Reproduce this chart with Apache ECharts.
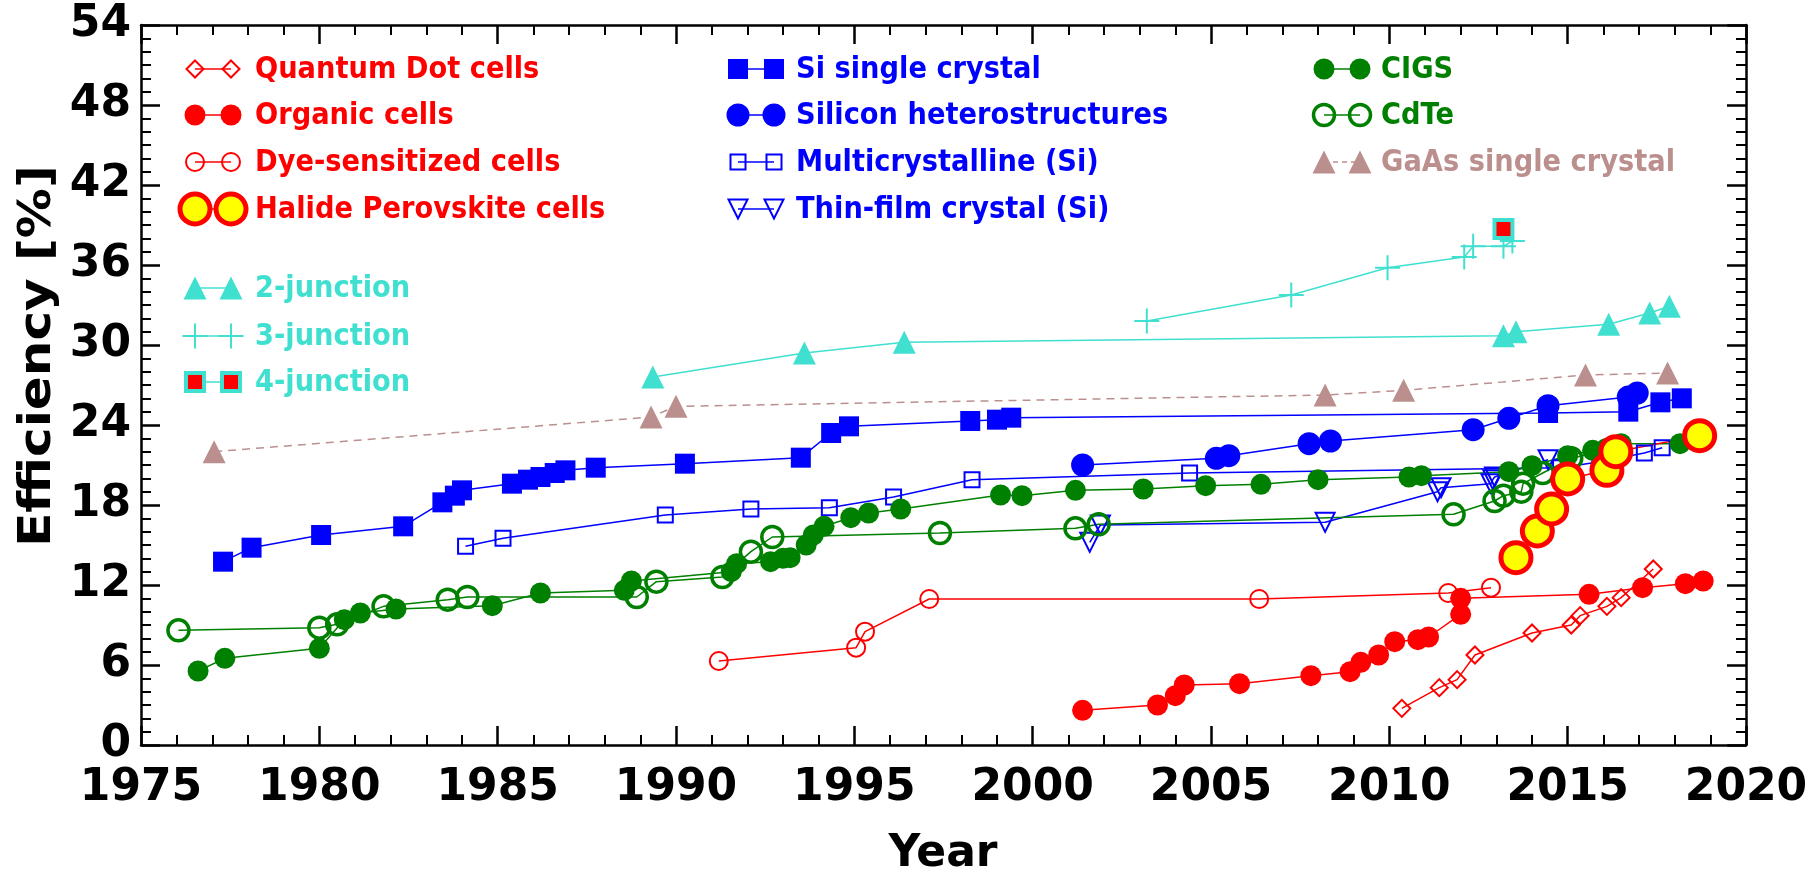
<!DOCTYPE html>
<html>
<head>
<meta charset="utf-8">
<title>Solar cell efficiency records</title>
<script src="https://cdn.jsdelivr.net/npm/echarts@6.0.0/dist/echarts.min.js"></script>
<style>
  html, body { margin: 0; padding: 0; background: #ffffff; }
  #chart { width: 1820px; height: 869px; }
</style>
</head>
<body>
<div id="chart"></div>
<script>
// ---- Axis ticks ----
const yearTicks = [1975, 1980, 1985, 1990, 1995, 2000, 2005, 2010, 2015, 2020];
const efficiencyTicks = [0, 6, 12, 18, 24, 30, 36, 42, 48, 54];

// ---- Record efficiencies, [year, efficiency %] ----
const quantumDot = [[2010.35, 2.75], [2011.4, 4.3], [2011.9, 4.9], [2012.4, 6.75], [2014.0, 8.4],
  [2015.1, 9.0], [2015.35, 9.7], [2016.1, 10.4], [2016.5, 11.05], [2017.4, 13.2]];
const organic = [[2001.4, 2.6], [2003.5, 3.0], [2004.0, 3.7], [2004.25, 4.5], [2005.8, 4.6],
  [2007.8, 5.2], [2008.9, 5.5], [2009.2, 6.2], [2009.7, 6.75], [2010.15, 7.75], [2010.8, 7.9],
  [2011.1, 8.1], [2012.0, 9.8], [2012.0, 11.0], [2015.6, 11.3], [2017.1, 11.8], [2018.3, 12.1],
  [2018.8, 12.3]];
const dyeSensitized = [[1991.2, 6.3], [1995.05, 7.3], [1995.3, 8.5], [1997.1, 10.95],
  [2006.35, 10.95], [2011.65, 11.4], [2012.85, 11.8]];
const perovskite = [[2013.55, 14.05], [2014.15, 16.05], [2014.55, 17.7], [2015.0, 19.95],
  [2016.1, 20.6], [2016.35, 22.0], [2018.7, 23.2]];
const siSingleCrystal = [[1977.3, 13.75], [1978.1, 14.8], [1980.05, 15.75], [1982.35, 16.4],
  [1983.45, 18.2], [1983.8, 18.7], [1984.0, 19.1], [1985.4, 19.6], [1985.85, 19.9], [1986.2, 20.1],
  [1986.6, 20.4], [1986.9, 20.6], [1987.75, 20.8], [1990.25, 21.1], [1993.5, 21.55],
  [1994.35, 23.4], [1994.85, 23.9], [1998.25, 24.3], [1999.0, 24.4], [1999.4, 24.55],
  [2014.45, 24.9], [2016.7, 25.0], [2017.6, 25.7], [2018.2, 26.0]];
const siHetero = [[2001.4, 21.0], [2005.15, 21.5], [2005.5, 21.7], [2007.75, 22.6],
  [2008.35, 22.8], [2012.35, 23.65], [2013.35, 24.5], [2014.45, 25.45], [2016.7, 26.1],
  [2016.95, 26.4]];
const multiCrystalline = [[1984.1, 14.9], [1985.15, 15.5], [1989.7, 17.25], [1992.1, 17.7],
  [1994.3, 17.8], [1996.1, 18.6], [1998.3, 19.9], [2004.4, 20.4], [2014.8, 20.8],
  [2015.9, 21.25], [2017.15, 21.9], [2017.65, 22.3]];
const thinFilmSi = [[2001.6, 15.2], [2001.9, 16.5], [2008.2, 16.7], [2011.35, 19.0],
  [2011.45, 19.3], [2012.85, 19.6], [2012.9, 19.9], [2012.95, 20.1], [2014.45, 21.4]];
const cigs = [[1976.6, 5.55], [1977.35, 6.5], [1980.0, 7.25], [1980.7, 9.4], [1981.15, 9.9],
  [1982.15, 10.2], [1984.85, 10.45], [1986.2, 11.4], [1988.55, 11.6], [1988.75, 12.3],
  [1991.55, 13.0], [1991.7, 13.6], [1992.65, 13.75], [1993.0, 14.0], [1993.2, 14.05],
  [1993.65, 15.0], [1993.85, 15.75], [1994.15, 16.4], [1994.9, 17.05], [1995.4, 17.4],
  [1996.3, 17.7], [1999.1, 18.75], [1999.7, 18.7], [2001.2, 19.1], [2003.1, 19.2],
  [2004.85, 19.45], [2006.4, 19.55], [2008.0, 19.9], [2010.55, 20.1], [2010.9, 20.2],
  [2013.35, 20.5], [2014.0, 20.95], [2015.0, 21.7], [2015.7, 22.1], [2016.5, 22.6],
  [2018.15, 22.6]];
const cdte = [[1976.05, 8.6], [1980.0, 8.8], [1980.5, 9.05], [1981.8, 10.4], [1983.6, 10.9],
  [1984.15, 11.1], [1988.9, 11.1], [1989.45, 12.25], [1991.3, 12.6], [1992.1, 14.5],
  [1992.7, 15.6], [1997.4, 15.9], [2001.2, 16.25], [2001.85, 16.55], [2011.8, 17.3],
  [2012.95, 18.3], [2013.2, 18.7], [2013.7, 19.0], [2013.75, 19.6], [2014.3, 20.4],
  [2015.1, 21.5], [2016.1, 22.1]];
const gaasSingle = [[1977.05, 22.0], [1989.3, 24.6], [1990.0, 25.4], [2008.2, 26.25],
  [2010.4, 26.6], [2015.5, 27.75], [2017.8, 27.9]];
const twoJunction = [[1989.35, 27.6], [1993.6, 29.4], [1996.4, 30.2], [2013.2, 30.7],
  [2013.55, 31.0], [2016.15, 31.55], [2017.3, 32.4], [2017.85, 32.9]];
const threeJunction = [[2003.2, 31.8], [2007.25, 33.75], [2009.95, 35.8], [2012.1, 36.6],
  [2012.35, 37.4], [2013.2, 37.4], [2013.45, 37.8]];
const fourJunction = [[2013.2, 38.7]];

// ---- Colours and marker styles ----
const RED = '#ff0000', BLUE = '#0000ff', GREEN = '#008000', TURQ = '#40e0d0', ROSY = '#bc8f8f';
const FONT = '"DejaVu Sans", Verdana, sans-serif';
const PLUS_PATH = 'path://M10,0L10,20M0,10L20,10';

const families = [
  { key: 'gaas', name: 'GaAs single crystal', data: gaasSingle, text: ROSY, line: ROSY, dash: true,
    symbol: 'triangle', size: 23, fill: ROSY },
  { key: 'twoJ', name: '2-junction', data: twoJunction, text: TURQ, line: TURQ,
    symbol: 'triangle', size: 23, fill: TURQ },
  { key: 'threeJ', name: '3-junction', data: threeJunction, text: TURQ, line: TURQ,
    symbol: 'plus', size: 25, fill: 'none', border: TURQ, bw: 2 },
  { key: 'fourJ', name: '4-junction', data: fourJunction, text: TURQ, line: TURQ,
    symbol: 'rect', size: 18, fill: RED, border: TURQ, bw: 4 },
  { key: 'siSingle', name: 'Si single crystal', data: siSingleCrystal, text: BLUE, line: BLUE,
    symbol: 'rect', size: 20, fill: BLUE },
  { key: 'multi', name: 'Multicrystalline (Si)', data: multiCrystalline, text: BLUE, line: BLUE,
    symbol: 'rect', size: 15, fill: 'none', border: BLUE, bw: 2 },
  { key: 'thin', name: 'Thin-film crystal (Si)', data: thinFilmSi, text: BLUE, line: BLUE,
    symbol: 'triangle', down: true, size: 19, fill: 'none', border: BLUE, bw: 2 },
  { key: 'hetero', name: 'Silicon heterostructures', data: siHetero, text: BLUE, line: BLUE,
    symbol: 'circle', size: 23, fill: BLUE },
  { key: 'cdte', name: 'CdTe', data: cdte, text: GREEN, line: GREEN,
    symbol: 'circle', size: 21, fill: 'none', border: GREEN, bw: 3.5 },
  { key: 'cigs', name: 'CIGS', data: cigs, text: GREEN, line: GREEN,
    symbol: 'circle', size: 21, fill: GREEN },
  { key: 'dye', name: 'Dye-sensitized cells', data: dyeSensitized, text: RED, line: RED,
    symbol: 'circle', size: 18, fill: 'none', border: RED, bw: 2 },
  { key: 'organic', name: 'Organic cells', data: organic, text: RED, line: RED,
    symbol: 'circle', size: 21, fill: RED },
  { key: 'qd', name: 'Quantum Dot cells', data: quantumDot, text: RED, line: RED,
    symbol: 'diamond', size: 17, fill: 'none', border: RED, bw: 2 },
  { key: 'perov', name: 'Halide Perovskite cells', data: perovskite, text: RED, line: RED,
    symbol: 'circle', size: 30, fill: '#ffff00', border: RED, bw: 5 }
];
const byKey = {};
families.forEach(f => { byKey[f.key] = f; });

// ---- Legend layout: three columns of "marker—marker  label" ----
const legendColumns = [
  { x1: 195, x2: 231, tx: 255, rows: [['qd', 69], ['organic', 115], ['dye', 162], ['perov', 209],
    ['twoJ', 288], ['threeJ', 336], ['fourJ', 382]] },
  { x1: 738, x2: 774, tx: 796, rows: [['siSingle', 69], ['hetero', 115], ['multi', 162], ['thin', 209]] },
  { x1: 1324, x2: 1360, tx: 1381, rows: [['cigs', 69], ['cdte', 115], ['gaas', 162]] }
];

function markerShapes(f, cx, cy) {
  const h = f.size / 2;
  const style = { fill: f.fill, stroke: f.border || null, lineWidth: f.bw || 0 };
  if (f.symbol === 'circle') return [{ type: 'circle', shape: { cx, cy, r: h }, style }];
  if (f.symbol === 'rect') return [{ type: 'rect', shape: { x: cx - h, y: cy - h, width: f.size, height: f.size }, style }];
  if (f.symbol === 'diamond') return [{ type: 'polygon', shape: { points: [[cx, cy - h], [cx + h, cy], [cx, cy + h], [cx - h, cy]] }, style }];
  if (f.symbol === 'triangle') {
    const pts = f.down ? [[cx - h, cy - h], [cx + h, cy - h], [cx, cy + h]]
                       : [[cx, cy - h], [cx + h, cy + h], [cx - h, cy + h]];
    return [{ type: 'polygon', shape: { points: pts }, style }];
  }
  // plus sign
  const ps = { stroke: f.border, lineWidth: f.bw };
  return [
    { type: 'line', shape: { x1: cx - h, y1: cy, x2: cx + h, y2: cy }, style: ps },
    { type: 'line', shape: { x1: cx, y1: cy - h, x2: cx, y2: cy + h }, style: ps }
  ];
}

const overlay = [];
legendColumns.forEach(col => {
  col.rows.forEach(([key, y]) => {
    const f = byKey[key];
    overlay.push({ type: 'line', silent: true,
      shape: { x1: col.x1, y1: y, x2: col.x2, y2: y },
      style: { stroke: f.line, lineWidth: 1.5, lineDash: f.dash ? [5, 4] : null } });
    markerShapes(f, col.x1, y).concat(markerShapes(f, col.x2, y)).forEach(s => {
      s.silent = true; overlay.push(s);
    });
    overlay.push({ type: 'text', silent: true, x: col.tx, y: y + 1, scaleX: 0.88,
      style: { text: f.name, fill: f.text, fontSize: 31, fontWeight: 'bold', fontFamily: FONT,
        align: 'left', verticalAlign: 'middle' } });
  });
});

// ---- Axis titles ----
overlay.push({ type: 'text', silent: true, x: 39, y: 356, rotation: Math.PI / 2, scaleY: 0.88,
  style: { text: 'Efficiency [%]', fill: '#000', fontSize: 50, fontWeight: 'bold', fontFamily: FONT,
    align: 'center', verticalAlign: 'middle' } });
overlay.push({ type: 'text', silent: true, x: 943, y: 855,
  style: { text: 'Year', fill: '#000', fontSize: 44, fontWeight: 'bold', fontFamily: FONT,
    align: 'center', verticalAlign: 'middle' } });

// ---- Series ----
function echartsSymbol(f) {
  return f.symbol === 'plus' ? PLUS_PATH : f.symbol;
}
const series = families.map(f => ({
  type: 'line',
  name: f.name,
  data: f.data,
  symbol: echartsSymbol(f),
  symbolSize: f.size,
  symbolRotate: f.down ? 180 : 0,
  showAllSymbol: true,
  xAxisIndex: 0,
  yAxisIndex: 0,
  lineStyle: { color: f.line, width: 1.5, type: f.dash ? [8, 6] : 'solid' },
  itemStyle: { color: f.fill, borderColor: f.border || f.fill, borderWidth: f.bw || 0 },
  emphasis: { disabled: true },
  z: 2
}));

// ---- Axes (frame with inward ticks on all four sides) ----
const tickFont = { fontSize: 44, fontWeight: 'bold', fontFamily: FONT, color: '#000' };
function xAxisDef(pos, labels) {
  return {
    type: 'value', position: pos,
    min: yearTicks[0], max: yearTicks[yearTicks.length - 1], interval: yearTicks[1] - yearTicks[0],
    axisLine: { show: true, onZero: false, lineStyle: { color: '#000', width: 2.5 } },
    axisTick: { show: true, inside: true, length: 19, lineStyle: { color: '#000', width: 2.5 } },
    minorTick: { show: true, splitNumber: 5, length: 10, lineStyle: { color: '#000', width: 2 } },
    splitLine: { show: false },
    axisLabel: Object.assign({ show: labels, margin: 22, formatter: v => String(v) }, tickFont)
  };
}
function yAxisDef(pos, labels) {
  return {
    type: 'value', position: pos,
    min: efficiencyTicks[0], max: efficiencyTicks[efficiencyTicks.length - 1],
    interval: efficiencyTicks[1] - efficiencyTicks[0],
    axisLine: { show: true, onZero: false, lineStyle: { color: '#000', width: 2.5 } },
    axisTick: { show: true, inside: true, length: 19, lineStyle: { color: '#000', width: 2.5 } },
    minorTick: { show: true, splitNumber: 6, length: 10, lineStyle: { color: '#000', width: 2 } },
    splitLine: { show: false },
    axisLabel: Object.assign({ show: labels, margin: 10, formatter: v => String(v) }, tickFont)
  };
}

const chart = echarts.init(document.getElementById('chart'), null, { renderer: 'canvas' });
chart.setOption({
  animation: false,
  backgroundColor: '#ffffff',
  grid: { left: 141, right: 74, top: 25, bottom: 124, containLabel: false },
  xAxis: [xAxisDef('bottom', true), xAxisDef('top', false)],
  yAxis: [yAxisDef('left', true), yAxisDef('right', false)],
  graphic: overlay,
  series: series
});
</script>
</body>
</html>
